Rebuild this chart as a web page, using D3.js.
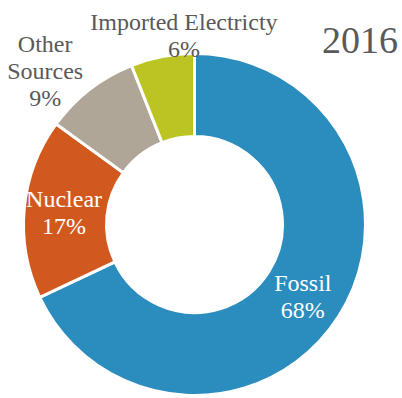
<!DOCTYPE html>
<html>
<head>
<meta charset="utf-8">
<script src="https://cdn.jsdelivr.net/npm/d3@7/dist/d3.min.js"></script>
<style>
  html, body { margin: 0; padding: 0; background: #fff; }
  svg { display: block; }
</style>
</head>
<body>
<svg id="chart" width="402" height="398"></svg>
<script>
// Energy sources for 2016, in percent
const categories = ["Fossil", "Nuclear", "Other Sources", "Imported Electricty"];
const values = [68, 17, 9, 6];
const colors = ["#2B8CBE", "#D2591D", "#AFA698", "#BCC423"];
const title = "2016";

const FONT = "'Liberation Serif', 'Times New Roman', serif";
const svg = d3.select("#chart");
const cx = 194.5, cy = 224.5;
const outerR = 171, innerR = 88;

const data = categories.map((c, i) => ({ name: c, value: values[i], color: colors[i] }));

const pie = d3.pie().sort(null).value(d => d.value);
const arc = d3.arc().innerRadius(innerR).outerRadius(outerR);
const arcs = pie(data);

const g = svg.append("g").attr("transform", `translate(${cx},${cy})`);

g.selectAll("path")
  .data(arcs)
  .join("path")
  .attr("d", arc)
  .attr("fill", d => d.data.color)
  .attr("stroke", "#fff")
  .attr("stroke-width", 3)
  .attr("stroke-linejoin", "miter");

// Label placement: inside slices use the centroid, small slices sit outside
const labelOpts = {
  "Fossil": { inside: true, dx: -1, dy: 4 },
  "Nuclear": { inside: true, dx: -1.5, dy: 1 },
  "Other Sources": { inside: false, r: 213.5, angle: -44.4, lines: ["Other", "Sources"] },
  "Imported Electricty": { inside: false, r: 188.8, angle: -3.2, lines: ["Imported Electricty"] }
};

const lineH = 27;
arcs.forEach(a => {
  const o = labelOpts[a.data.name];
  let x, y;
  if (o.inside) {
    const c = arc.centroid(a);
    x = c[0] + o.dx; y = c[1] + o.dy;
  } else {
    const t = o.angle * Math.PI / 180;
    x = o.r * Math.sin(t); y = -o.r * Math.cos(t);
  }
  const lines = (o.lines || [a.data.name]).concat([a.data.value + "%"]);
  const fill = o.inside ? "#fff" : "#595959";
  const n = lines.length;
  const t = g.append("text")
    .attr("text-anchor", "middle")
    .attr("fill", fill)
    .attr("font-family", FONT)
    .attr("font-size", 24);
  lines.forEach((s, i) => {
    t.append("tspan")
      .attr("x", x)
      .attr("y", y + (i - (n - 1) / 2) * lineH + 7)
      .text(s);
  });
});

svg.append("text")
  .attr("x", 398)
  .attr("y", 53)
  .attr("text-anchor", "end")
  .attr("fill", "#595959")
  .attr("font-family", FONT)
  .attr("font-size", 38)
  .text(title);
</script>
</body>
</html>
